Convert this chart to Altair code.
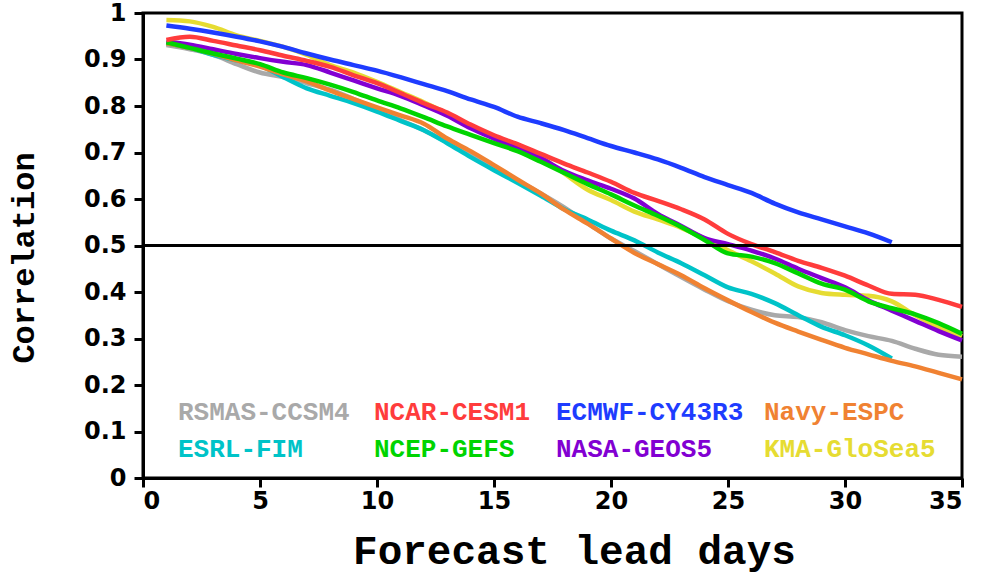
import altair as alt
import pandas as pd

# Forecast lead (days)
days = list(range(1, 36))

# Anomaly correlation by lead day for each forecast system
rsmas_ccsm4 = [0.931, 0.922, 0.910, 0.890, 0.872, 0.862, 0.849, 0.835, 0.815, 0.793,
               0.770, 0.748, 0.722, 0.695, 0.668, 0.640, 0.612, 0.582, 0.548, 0.515,
               0.488, 0.460, 0.432, 0.405, 0.380, 0.362, 0.350, 0.346, 0.335, 0.318,
               0.305, 0.295, 0.278, 0.265, 0.261]
esrl_fim = [0.935, 0.925, 0.910, 0.898, 0.887, 0.862, 0.838, 0.822, 0.806, 0.788,
            0.768, 0.748, 0.720, 0.690, 0.662, 0.635, 0.607, 0.578, 0.556, 0.532,
            0.511, 0.485, 0.462, 0.436, 0.410, 0.396, 0.376, 0.350, 0.325, 0.307,
            0.285, 0.257]
ncar_cesm1 = [0.942, 0.949, 0.940, 0.930, 0.920, 0.908, 0.897, 0.884, 0.866, 0.849,
              0.828, 0.806, 0.786, 0.760, 0.737, 0.718, 0.697, 0.676, 0.657, 0.637,
              0.613, 0.596, 0.578, 0.556, 0.525, 0.503, 0.486, 0.467, 0.452, 0.435,
              0.414, 0.396, 0.394, 0.383, 0.368]
ncep_gefs = [0.937, 0.925, 0.913, 0.902, 0.890, 0.872, 0.860, 0.846, 0.830, 0.812,
             0.795, 0.776, 0.756, 0.738, 0.720, 0.703, 0.680, 0.656, 0.632, 0.610,
             0.586, 0.564, 0.540, 0.512, 0.483, 0.476, 0.462, 0.440, 0.418, 0.405,
             0.380, 0.365, 0.352, 0.333, 0.310]
ecmwf_cy43r3 = [0.973, 0.966, 0.958, 0.949, 0.939, 0.927, 0.913, 0.900, 0.888, 0.876,
                0.862, 0.847, 0.832, 0.814, 0.798, 0.777, 0.763, 0.748, 0.731, 0.714,
                0.700, 0.685, 0.667, 0.647, 0.630, 0.613, 0.590, 0.571, 0.556, 0.541,
                0.526, 0.507]
nasa_geos5 = [0.938, 0.932, 0.922, 0.912, 0.903, 0.895, 0.888, 0.872, 0.855, 0.838,
              0.822, 0.801, 0.779, 0.752, 0.730, 0.710, 0.688, 0.660, 0.640, 0.622,
              0.601, 0.568, 0.542, 0.516, 0.503, 0.489, 0.472, 0.450, 0.430, 0.410,
              0.382, 0.360, 0.338, 0.316, 0.296]
navy_espc = [0.935, 0.925, 0.912, 0.898, 0.885, 0.868, 0.853, 0.833, 0.815, 0.797,
             0.780, 0.762, 0.730, 0.703, 0.673, 0.642, 0.612, 0.577, 0.547, 0.515,
             0.484, 0.460, 0.436, 0.408, 0.382, 0.357, 0.334, 0.315, 0.297, 0.280,
             0.266, 0.252, 0.240, 0.226, 0.212]
kma_glosea5 = [0.985, 0.982, 0.970, 0.952, 0.940, 0.927, 0.910, 0.888, 0.872, 0.852,
               0.830, 0.808, 0.784, 0.758, 0.735, 0.712, 0.690, 0.655, 0.620, 0.598,
               0.573, 0.556, 0.538, 0.515, 0.490, 0.466, 0.440, 0.412, 0.398, 0.394,
               0.392, 0.380, 0.350, 0.325, 0.305]

names = ["RSMAS-CCSM4", "ESRL-FIM", "NCAR-CESM1", "NCEP-GEFS",
         "ECMWF-CY43R3", "NASA-GEOS5", "Navy-ESPC", "KMA-GloSea5"]
values = [rsmas_ccsm4, esrl_fim, ncar_cesm1, ncep_gefs,
          ecmwf_cy43r3, nasa_geos5, navy_espc, kma_glosea5]

colors = {
    "RSMAS-CCSM4": "#a9a9a9",
    "ESRL-FIM": "#00c3c8",
    "NCAR-CESM1": "#ff3c3c",
    "NCEP-GEFS": "#00d400",
    "ECMWF-CY43R3": "#1e3cff",
    "NASA-GEOS5": "#8200d2",
    "Navy-ESPC": "#f08232",
    "KMA-GloSea5": "#e6dc32",
}

rows = []
for name, vals in zip(names, values):
    for d, v in zip(days, vals):
        rows.append({"model": name, "day": d, "corr": v})
df = pd.DataFrame(rows)

W, H = 819, 465
tick_font = "DejaVu Sans"
mono_font = "Liberation Mono, Courier New, monospace"

x_enc = alt.X("day:Q", scale=alt.Scale(domain=[0, 35], nice=False),
              axis=alt.Axis(values=list(range(0, 36, 5)), title="Forecast lead days",
                            titleX=431, titleY=85, titleBaseline="alphabetic",
                            titleAlign="center", titleFont=mono_font,
                            titleFontSize=41, titleFontWeight="bold"))
y_enc = alt.Y("corr:Q", scale=alt.Scale(domain=[0, 1], nice=False),
              axis=alt.Axis(values=[round(i * 0.1, 1) for i in range(11)],
                            format="~g", title="Correlation",
                            titleX=-110, titleY=244.5, titleAngle=-90,
                            titleBaseline="alphabetic", titleAlign="center",
                            titleFont=mono_font, titleFontSize=32,
                            titleFontWeight="bold"))

# draw order: later layers sit on top
draw_order = ["RSMAS-CCSM4", "KMA-GloSea5", "ESRL-FIM", "Navy-ESPC",
              "NASA-GEOS5", "NCEP-GEFS", "NCAR-CESM1", "ECMWF-CY43R3"]

layers = []
for i, name in enumerate(draw_order):
    enc_x = x_enc if i == 0 else alt.X("day:Q")
    enc_y = y_enc if i == 0 else alt.Y("corr:Q")
    layers.append(
        alt.Chart(df).transform_filter(alt.datum.model == name)
        .mark_line(strokeWidth=4.5, interpolate="monotone", color=colors[name])
        .encode(x=enc_x, y=enc_y)
    )

ref = alt.Chart(df).mark_rule(color="black", strokeWidth=2).encode(y=alt.datum(0.5))

# in-plot legend: coloured labels in two rows of four
legend_rows = [["RSMAS-CCSM4", "NCAR-CESM1", "ECMWF-CY43R3", "Navy-ESPC"],
               ["ESRL-FIM", "NCEP-GEFS", "NASA-GEOS5", "KMA-GloSea5"]]
col_x = [35, 231, 413, 621]
row_y = [407, 444]
legend_layers = []
for r, row in enumerate(legend_rows):
    for c, name in enumerate(row):
        legend_layers.append(
            alt.Chart(pd.DataFrame({"label": [name]}))
            .mark_text(align="left", baseline="alphabetic", font=mono_font,
                       fontSize=26, fontWeight="bold", color=colors[name])
            .encode(x=alt.value(col_x[c]), y=alt.value(row_y[r]), text="label:N")
        )

chart = alt.layer(*layers, ref, *legend_layers).properties(
    width=W, height=H,
    padding={"left": 143, "top": 13, "right": 19, "bottom": 99},
    autosize=alt.AutoSizeParams(type="none"),
    background="white",
).configure_view(
    stroke="black", strokeWidth=3
).configure_axis(
    grid=False, domainColor="black", domainWidth=3,
    tickColor="black", tickWidth=3, tickSize=9,
    labelFont=tick_font, labelFontWeight="bold", labelFontSize=24,
    labelColor="black", titleColor="black",
).configure_axisY(labelPadding=8).configure_axisX(labelPadding=2)

chart.save("out.html", embed_options={"renderer": "svg", "actions": False})
